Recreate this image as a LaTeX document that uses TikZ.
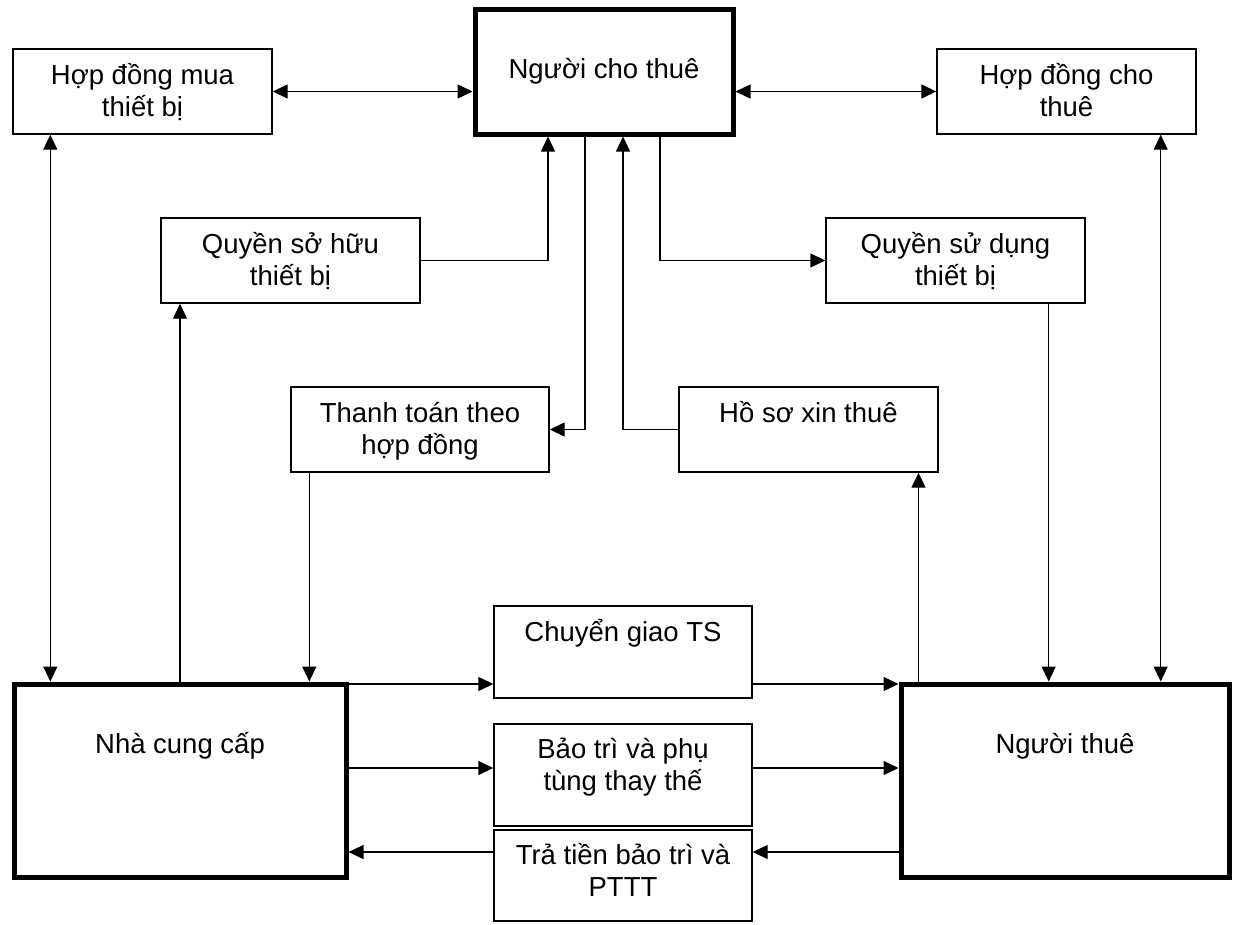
\documentclass[tikz,border=0pt]{standalone}
\usepackage{fontspec}
\setmainfont{Liberation Sans}
\usetikzlibrary{arrows.meta}
% centred two-line label whose baseline is that of its first line
\newcommand\twolines[2]{\vtop{\halign{\hfil##\hfil\cr#1\cr#2\cr}}}

\begin{document}
\begin{tikzpicture}[x=1pt,y=-1pt,
  box/.style={draw,line width=1.4pt,minimum width=259pt,minimum height=85pt,inner sep=0pt},
  heavy/.style={draw,line width=5pt,inner sep=0pt},
  lbl/.style={anchor=base,inner sep=0pt,font=\fontsize{27.5}{32}\selectfont},
  tip/.tip={Triangle[length=15pt,width=14pt]},
  link/.style={line width=1.4pt,-tip},
  both/.style={line width=1.4pt,tip-tip}]

\useasboundingbox (0,0) rectangle (1233,924);

% boxes
\node[box] (hdm) at (142.5,91.5) {};
\node[heavy,minimum width=258pt,minimum height=125pt] (nct) at (604,71.5) {};
\node[box] (hdct) at (1066.5,91.5) {};
\node[box] (qsh) at (290.5,260.5) {};
\node[box] (qsd) at (955.5,260.5) {};
\node[box,minimum width=258pt] (tt) at (420,429.5) {};
\node[box] (hs) at (808.5,429.5) {};
\node[box,minimum width=258pt,minimum height=92pt] (cg) at (623,652) {};
\node[box,minimum width=258pt,minimum height=102pt] (bt) at (623,775) {};
\node[box,minimum width=258pt,minimum height=91pt] (trt) at (623,875.5) {};
\node[heavy,minimum width=332pt,minimum height=193pt] (ncc) at (180,780.5) {};
\node[heavy,minimum width=328pt,minimum height=193pt] (nt) at (1065,780.5) {};

% labels
\node[lbl] (hdm-t) at ([yshift=-36pt]hdm.north) {\twolines{Hợp đồng mua}{thiết bị}};
\node[lbl] (nct-t) at ([yshift=-72pt]nct.north) {Người cho thuê};
\node[lbl] (hdct-t) at ([yshift=-36pt]hdct.north) {\twolines{Hợp đồng cho}{thuê}};
\node[lbl] (qsh-t) at ([yshift=-36pt]qsh.north) {\twolines{Quyền sở hữu}{thiết bị}};
\node[lbl] (qsd-t) at ([yshift=-36pt]qsd.north) {\twolines{Quyền sử dụng}{thiết bị}};
\node[lbl] (tt-t) at ([yshift=-36pt]tt.north) {\twolines{Thanh toán theo}{hợp đồng}};
\node[lbl] (hs-t) at ([yshift=-36pt]hs.north) {Hồ sơ xin thuê};
\node[lbl] (cg-t) at ([yshift=-36pt]cg.north) {Chuyển giao TS};
\node[lbl] (bt-t) at ([yshift=-35pt]bt.north) {\twolines{Bảo trì và phụ}{tùng thay thế}};
\node[lbl] (trt-t) at ([yshift=-35pt]trt.north) {\twolines{Trả tiền bảo trì và}{PTTT}};
\node[lbl] (ncc-t) at ([yshift=-72pt]ncc.north) {Nhà cung cấp};
\node[lbl] (nt-t) at ([yshift=-72pt]nt.north) {Người thuê};

% rows of the horizontal flows between supplier and lessee
\coordinate (row1) at (0,684);
\coordinate (row2) at (0,768);
\coordinate (row3) at (0,852);

% contracts
\draw[both] (hdm.east) -- (hdm.east -| nct.west);
\draw[both] (nct.east |- hdct.west) -- (hdct.west);
\draw[both] ([xshift=38pt]hdm.south west) -- ([xshift=38pt]hdm.south west |- ncc.north);
\draw[both] ([xshift=-36pt]hdct.south east) -- ([xshift=-36pt]hdct.south east |- nt.north);

% ownership, use, payment, application
\draw[link] (qsh.east) -| ([xshift=-56pt]nct.south);
\draw[link] (ncc.north) -- (ncc.north |- qsh.south);
\draw[link] ([xshift=-19pt]nct.south) |- (tt.east);
\draw[link] (hs.west) -| ([xshift=19pt]nct.south);
\draw[link] ([xshift=56pt]nct.south) |- (qsd.west);
\draw[link] ([xshift=19pt]tt.south west) -- ([xshift=19pt]tt.south west |- ncc.north);
\draw[link] ([xshift=20pt]nt.north west) -- ([xshift=20pt]nt.north west |- hs.south);
\draw[link] ([xshift=-37pt]qsd.south east) -- ([xshift=-37pt]qsd.south east |- nt.north);

% delivery, maintenance and its payment
\draw[link] (ncc.east |- row1) -- (cg.west |- row1);
\draw[link] (cg.east |- row1) -- (nt.west |- row1);
\draw[link] (ncc.east |- row2) -- (bt.west |- row2);
\draw[link] (bt.east |- row2) -- (nt.west |- row2);
\draw[link] (nt.west |- row3) -- (trt.east |- row3);
\draw[link] (trt.west |- row3) -- (ncc.east |- row3);

\end{tikzpicture}
\end{document}
